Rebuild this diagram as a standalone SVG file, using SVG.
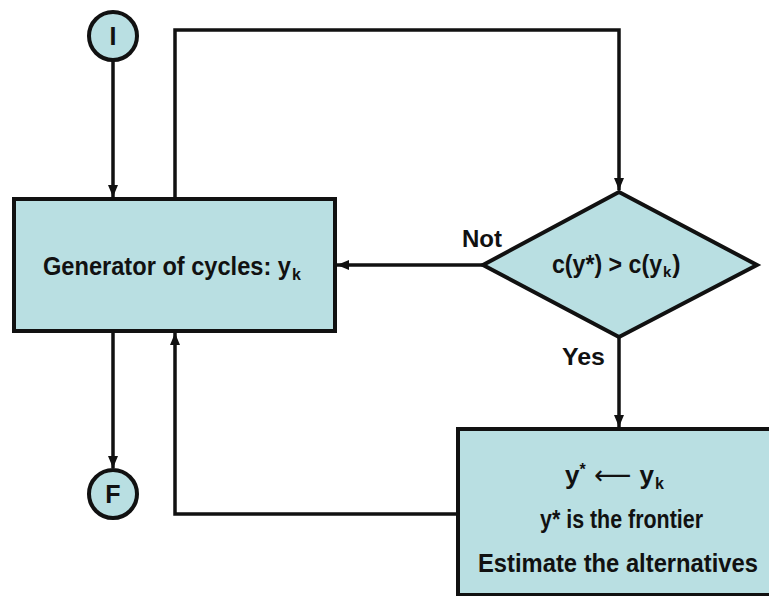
<svg xmlns="http://www.w3.org/2000/svg" width="769" height="596" viewBox="0 0 769 596">
<defs>
<style>
.node{fill:#b9dfe2;stroke:#111;stroke-width:4}
.conn{fill:none;stroke:#111;stroke-width:3.5}
.t{font-family:"Liberation Sans",Arial,sans-serif;font-weight:bold;fill:#111}
</style>
<marker id="ah" viewBox="0 0 12 12" refX="12" refY="6" markerWidth="12" markerHeight="12" markerUnits="userSpaceOnUse" orient="auto">
<path d="M0,1 L12,6 L0,11 Z" fill="#111"/>
</marker>
</defs>
<rect width="769" height="596" fill="#fff"/>
<g id="connectors">
<line class="conn" x1="113" y1="61" x2="113" y2="197" marker-end="url(#ah)"/>
<polyline class="conn" points="175,199 175,30 619,30 619,190" marker-end="url(#ah)"/>
<line class="conn" x1="483" y1="265" x2="337" y2="265" marker-end="url(#ah)"/>
<line class="conn" x1="619" y1="337" x2="619" y2="427" marker-end="url(#ah)"/>
<polyline class="conn" points="458,514 175,514 175,333" marker-end="url(#ah)"/>
<line class="conn" x1="113" y1="331" x2="113" y2="468" marker-end="url(#ah)"/>
<text class="t" x="462" y="247" font-size="24" textLength="40" lengthAdjust="spacingAndGlyphs">Not</text>
<text class="t" x="562" y="365" font-size="24" textLength="43" lengthAdjust="spacingAndGlyphs">Yes</text>
</g>
<g id="start">
<circle class="node" cx="113" cy="36" r="24"/>
<text class="t" x="113" y="45" font-size="25" text-anchor="middle">I</text>
</g>
<g id="generator">
<rect class="node" x="14" y="199" width="321" height="132"/>
<text class="t" x="43" y="275" font-size="26"><tspan textLength="248" lengthAdjust="spacingAndGlyphs">Generator of cycles: y</tspan><tspan font-size="16" dx="1" dy="5">k</tspan></text>
</g>
<g id="decision">
<polygon class="node" points="619,192 757,265 619,337 483,265"/>
<text class="t" x="552" y="273" font-size="25"><tspan textLength="110" lengthAdjust="spacingAndGlyphs">c(y*) &gt; c(y</tspan><tspan font-size="15" dx="1" dy="4">k</tspan><tspan dx="1" dy="-4">)</tspan></text>
</g>
<g id="update">
<rect class="node" x="458" y="429" width="330" height="166"/>
<text class="t" x="565" y="484" font-size="26"><tspan>y</tspan><tspan font-size="16" dy="-9">*</tspan><tspan dy="9" font-family="'DejaVu Sans',sans-serif" font-weight="normal"> ⟵ </tspan><tspan>y</tspan><tspan font-size="16" dx="1" dy="5">k</tspan></text>
<text class="t" x="540" y="528" font-size="26" textLength="163" lengthAdjust="spacingAndGlyphs">y* is the frontier</text>
<text class="t" x="478" y="572" font-size="25" textLength="280" lengthAdjust="spacingAndGlyphs">Estimate the alternatives</text>
</g>
<g id="final">
<circle class="node" cx="113" cy="494" r="24"/>
<text class="t" x="113" y="503" font-size="25" text-anchor="middle">F</text>
</g>
</svg>
